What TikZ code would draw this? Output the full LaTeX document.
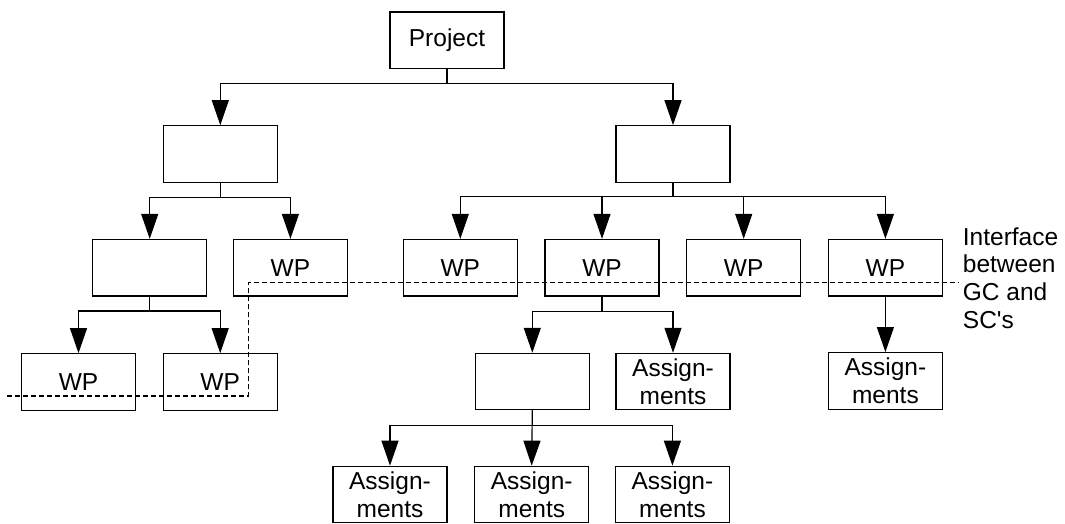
\documentclass[tikz,border=0pt]{standalone}
\usepackage{fontspec}
\setmainfont{Liberation Sans}
\usepackage{tikz}
\usetikzlibrary {arrows.meta,
                 positioning}
\tikzset{
        base/.style={draw, line width=1.2pt, align=center, inner sep=0pt,
                     minimum width=114pt, minimum height=56.5pt,
                     font=\fontsize{24.5}{27.5}\selectfont},
        txt/.style={align=left, inner sep=0pt, anchor=west,
                    font=\fontsize{24.5}{27.8}\selectfont},
        myarrow/.style={-{Triangle[length=25pt, width=17pt]}, line width=1.2pt},
        cut/.style={dash pattern=on 5pt off 3pt, line width=1.3pt},
 }

\begin{document}
\begin{tikzpicture}[x=1pt, y=-1pt]
    \useasboundingbox (0,0) rectangle (1065,523);

    \node[base] (proj) at (447,40.3) {Project};

    \node[base] (l1a) at (220.3,154) {};
    \node[base] (l1b) at (673,154) {};

    \node[base] (l2a) at (149.7,267.7) {};
    \node[base, right=25.5pt of l2a] (wpa) {WP};
    \node[base] (wpb) at (460.3,267.7) {WP};
    \node[base, right=26.5pt of wpb] (wpc) {WP};
    \node[base, right=26.5pt of wpc] (wpd) {WP};
    \node[base, right=26.5pt of wpd] (wpe) {WP};

    \node[base] (wpf) at (78.5,382) {WP};
    \node[base, right=26.5pt of wpf] (wpg) {WP};
    \node[base] (l3) at (532.3,381.6) {};
    \node[base, right=25.5pt of l3] (asg1) {Assign-\\ments};
    \node[base, below=55.5pt of wpe] (asg2) {Assign-\\ments};

    \node[base] (asg3) at (390,494.5) {Assign-\\ments};
    \node[base, right=26.5pt of asg3] (asg4) {Assign-\\ments};
    \node[base, right=25.5pt of asg4] (asg5) {Assign-\\ments};

    \node[txt] (iface) at (962.7,278) {Interface\\between\\GC and\\SC\textquotesingle s};

    % tree connectors
    \draw[myarrow] (proj.south) -- ++(0,14.5) -| (l1a.north);
    \draw[myarrow] (proj.south) -- ++(0,14.5) -| (l1b.north);

    \draw[myarrow] (l1a.south) -- ++(0,14.5) -| (l2a.north);
    \draw[myarrow] (l1a.south) -- ++(0,14.5) -| (wpa.north);
    \draw[myarrow] (l1b.south) -- ++(0,14) -| (wpb.north);
    \draw[myarrow] (l1b.south) -- ++(0,14) -| (wpc.north);
    \draw[myarrow] (l1b.south) -- ++(0,14) -| (wpd.north);
    \draw[myarrow] (l1b.south) -- ++(0,14) -| (wpe.north);

    \draw[myarrow] (l2a.south) -- ++(0,14.5) -| (wpf.north);
    \draw[myarrow] (l2a.south) -- ++(0,14.5) -| (wpg.north);
    \draw[myarrow] (wpc.south) -- ++(0,15) -| (l3.north);
    \draw[myarrow] (wpc.south) -- ++(0,15) -| (asg1.north);
    \draw[myarrow] (wpe.south) -- (asg2.north);

    \draw[myarrow] (l3.south) -- ++(0,15) -| (asg3.north);
    \draw[myarrow] (l3.south) -- (asg4.north);
    \draw[myarrow] (l3.south) -- ++(0,15) -| (asg5.north);

    % interface GC / SC
    \coordinate (cutA) at (7,396);
    \coordinate (cutB) at (248.3,282.7);
    \coordinate (cutC) at (958,282.7);
    \draw[cut] (cutA) -| (cutB) -- (cutC);
\end{tikzpicture}
\end{document}
